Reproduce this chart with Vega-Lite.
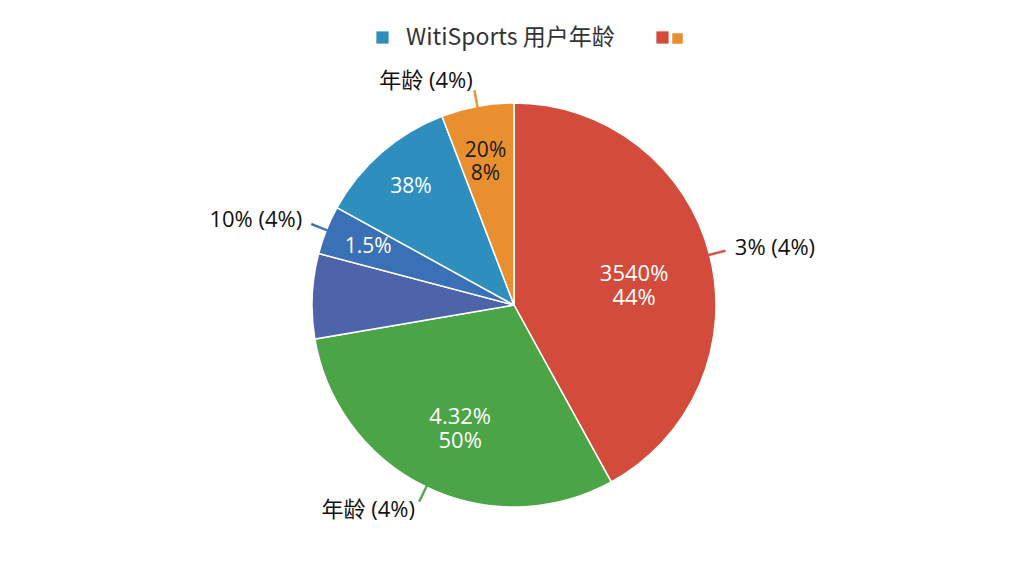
{
  "$schema": "https://vega.github.io/schema/vega-lite/v6.json",
  "width": 1020,
  "height": 542,
  "autosize": "none",
  "padding": {"left": 4, "top": 34, "right": 0, "bottom": 0},
  "background": "white",
  "config": {"view": {"stroke": null}, "font": "Open Sans, Noto Sans CJK SC"},
  "data": {
    "values": [
      {"group": "g1", "value": 42.0, "inner": "3540%\n44%", "outer": "3% (4%)"},
      {"group": "g2", "value": 30.3, "inner": "4.32%\n50%", "outer": "年龄 (4%)"},
      {"group": "g3", "value": 6.8, "inner": "", "outer": ""},
      {"group": "g4", "value": 3.9, "inner": "1.5%", "outer": "10% (4%)"},
      {"group": "g5", "value": 11.2, "inner": "38%", "outer": ""},
      {"group": "g6", "value": 5.8, "inner": "20%\n8%", "outer": "年龄 (4%)"}
    ]
  },
  "transform": [
    {"window": [{"op": "sum", "field": "value", "as": "cum"}], "frame": [null, 0]},
    {"calculate": "datum.cum - datum.value", "as": "start"},
    {"calculate": "datum.cum - datum.value / 2", "as": "mid"},
    {"calculate": "datum.mid - 0.06", "as": "tick0"},
    {"calculate": "datum.mid + 0.06", "as": "tick1"}
  ],
  "layer": [
    {
      "mark": {"type": "arc", "outerRadius": 202, "stroke": "white", "strokeWidth": 1.5},
      "encoding": {
        "theta": {"field": "start", "type": "quantitative", "scale": {"domain": [0, 100]}},
        "theta2": {"field": "cum"},
        "color": {
          "field": "group",
          "type": "nominal",
          "scale": {
            "domain": ["g1", "g2", "g3", "g4", "g5", "g6"],
            "range": ["#d34b3b", "#4ba446", "#4e64aa", "#3a70b6", "#2e8fbf", "#e8902f"]
          },
          "legend": {
            "orient": "none",
            "legendX": 367,
            "legendY": -8,
            "direction": "horizontal",
            "title": null,
            "values": ["g5"],
            "labelExpr": "'WitiSports 用户年龄'",
            "symbolType": "square",
            "symbolSize": 150,
            "symbolStrokeWidth": 0,
            "symbolOpacity": 1,
            "labelFontSize": 23,
            "labelColor": "#333333",
            "labelFont": "Noto Sans CJK SC",
            "labelOffset": 12,
            "labelLimit": 500,
            "padding": 0
          }
        }
      }
    },
    {
      "transform": [{"filter": "datum.outer != ''"}],
      "mark": {"type": "arc", "innerRadius": 201, "outerRadius": 218, "strokeWidth": 0.8},
      "encoding": {
        "theta": {"field": "tick0", "type": "quantitative", "scale": {"domain": [0, 100]}},
        "theta2": {"field": "tick1"},
        "fill": {
          "field": "group",
          "type": "nominal",
          "scale": {
            "domain": ["g1", "g6", "g2", "g4"],
            "range": ["#d34b3b", "#e8902f", "#4ba446", "#3a70b6"]
          },
          "legend": {
            "orient": "none",
            "legendX": 647,
            "legendY": -8,
            "direction": "horizontal",
            "title": null,
            "values": ["g1"],
            "labelExpr": "''",
            "symbolType": "square",
            "symbolSize": 150,
            "symbolStrokeWidth": 0,
            "symbolOpacity": 1,
            "labelFontSize": 23,
            "labelOffset": 0,
            "padding": 0
          }
        },
        "stroke": {
          "field": "group",
          "type": "nominal",
          "scale": {
            "domain": ["g6", "g1", "g2", "g4"],
            "range": ["#e8902f", "#d34b3b", "#4ba446", "#3a70b6"]
          },
          "legend": {
            "orient": "none",
            "legendX": 662,
            "legendY": -7,
            "direction": "horizontal",
            "title": null,
            "values": ["g6"],
            "labelExpr": "''",
            "symbolType": "square",
            "symbolSize": 30,
            "symbolStrokeWidth": 5,
            "symbolFillColor": "#e8902f",
            "symbolOpacity": 1,
            "labelFontSize": 23,
            "labelOffset": 0,
            "padding": 0
          }
        }
      }
    },
    {
      "transform": [{"filter": "datum.inner != '' && datum.value >= 20"}],
      "mark": {"type": "text", "radius": 124, "fontSize": 22, "lineBreak": "\n", "align": "center", "baseline": "middle", "font": "Open Sans", "color": "white"},
      "encoding": {
        "theta": {"field": "mid", "type": "quantitative", "scale": {"domain": [0, 100]}},
        "text": {"field": "inner"}
      }
    },
    {
      "transform": [{"filter": "datum.inner != '' && datum.value < 20"}],
      "mark": {"type": "text", "radius": 157, "fontSize": 21, "lineBreak": "\n", "align": "center", "baseline": "middle", "font": "Open Sans"},
      "encoding": {
        "theta": {"field": "mid", "type": "quantitative", "scale": {"domain": [0, 100]}},
        "text": {"field": "inner"},
        "color": {"condition": {"test": "datum.group == 'g6'", "value": "#1a1a1a"}, "value": "white"}
      }
    },
    {
      "transform": [{"filter": "datum.outer != '' && datum.mid < 50"}],
      "mark": {"type": "text", "radius": 228, "fontSize": 22, "align": "left", "baseline": "middle", "color": "#111111"},
      "encoding": {
        "theta": {"field": "mid", "type": "quantitative", "scale": {"domain": [0, 100]}},
        "text": {"field": "outer"}
      }
    },
    {
      "transform": [{"filter": "datum.outer != '' && datum.mid >= 50"}],
      "mark": {"type": "text", "radius": 228, "fontSize": 22, "align": "right", "baseline": "middle", "color": "#111111"},
      "encoding": {
        "theta": {"field": "mid", "type": "quantitative", "scale": {"domain": [0, 100]}},
        "text": {"field": "outer"}
      }
    }
  ]
}
